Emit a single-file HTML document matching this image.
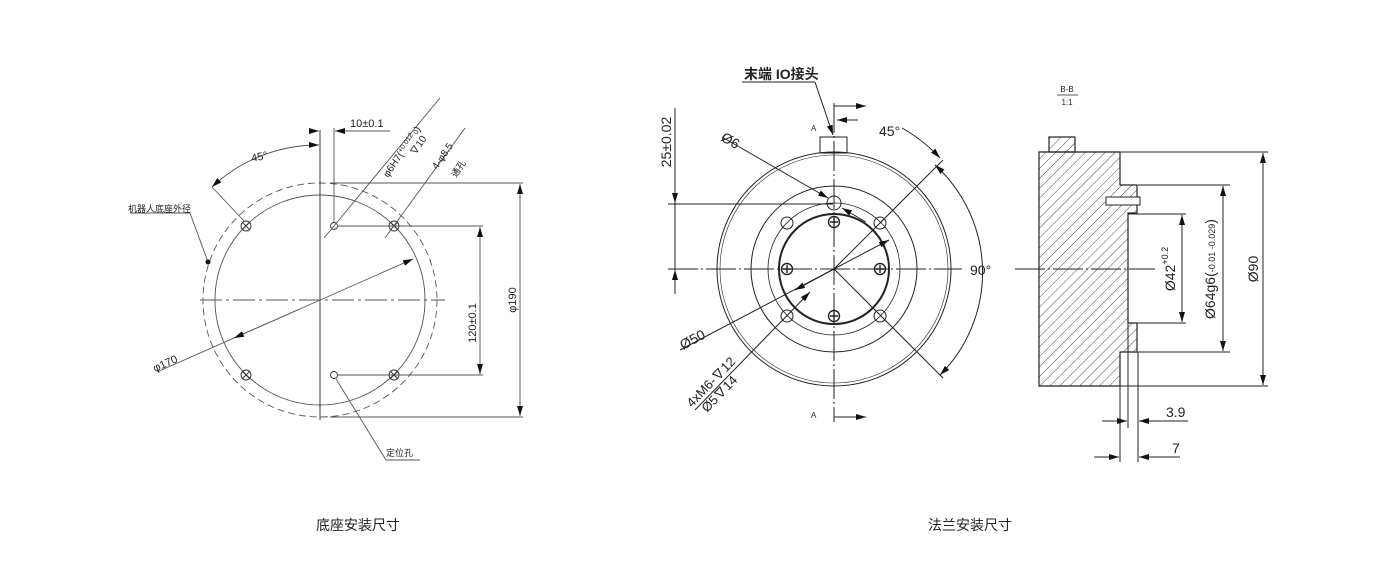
<!DOCTYPE html>
<html><head><meta charset="utf-8"><style>
body{margin:0;background:#fff}
svg{display:block}
text{font-family:"Liberation Sans","Noto Sans CJK SC",sans-serif;fill:#222}
</style></head><body>
<svg width="1400" height="588" viewBox="0 0 1400 588" xmlns="http://www.w3.org/2000/svg">
<defs>
<pattern id="h" width="7" height="7" patternUnits="userSpaceOnUse" patternTransform="rotate(45)">
<line x1="0" y1="0" x2="0" y2="7" stroke="#333" stroke-width="0.9"/></pattern>
<marker id="a" viewBox="0 0 10 6" refX="10" refY="3" markerWidth="10" markerHeight="6" orient="auto-start-reverse" markerUnits="userSpaceOnUse"><path d="M0,0 L10,3 L0,6z" fill="#111"/></marker>
</defs>

<!-- LEFT DRAWING -->
<g stroke="#555" fill="none" stroke-width="0.9">
<circle cx="320" cy="300" r="117" stroke-dasharray="7,4"/>
<circle cx="320" cy="300" r="105"/>
<line x1="320" y1="130" x2="320" y2="420" stroke="#222"/>
<line x1="200" y1="300" x2="445" y2="300" stroke-dasharray="22,4,3,4"/>
<g stroke="#333">
<circle cx="246" cy="226" r="5"/><circle cx="394" cy="226" r="5"/><circle cx="246" cy="375" r="5"/><circle cx="394" cy="375" r="5"/>
<path d="M242,222l8,8M250,222l-8,8M390,222l8,8M398,222l-8,8M242,371l8,8M250,371l-8,8M390,371l8,8M398,371l-8,8"/>
<circle cx="334" cy="226" r="3.5"/><circle cx="334" cy="375" r="3.5"/>
</g>
<line x1="330" y1="183" x2="523" y2="183"/><line x1="330" y1="417" x2="523" y2="417"/>
<line x1="520" y1="184" x2="520" y2="416" marker-start="url(#a)" marker-end="url(#a)"/>
<line x1="338" y1="226" x2="483" y2="226"/><line x1="338" y1="375" x2="483" y2="375"/>
<line x1="480" y1="227" x2="480" y2="374" marker-start="url(#a)" marker-end="url(#a)"/>
<line x1="334" y1="128" x2="334" y2="222"/>
<line x1="309" y1="131" x2="319" y2="131" marker-end="url(#a)"/>
<line x1="345" y1="131" x2="335" y2="131" marker-end="url(#a)"/>
<line x1="345" y1="131" x2="390" y2="131"/>
<path d="M319,145 A155,155 0 0 0 212,187" marker-start="url(#a)" marker-end="url(#a)"/>
<line x1="212" y1="187" x2="244" y2="221"/>
<line x1="157" y1="372" x2="413" y2="259" marker-end="url(#a)"/>
<line x1="300" y1="309" x2="234" y2="338" marker-end="url(#a)"/>
<line x1="324" y1="238" x2="440" y2="98"/>
<line x1="385" y1="238" x2="465" y2="128"/>
<line x1="130" y1="213" x2="190" y2="213"/><line x1="190" y1="213" x2="208" y2="262"/>
<line x1="336" y1="379" x2="386" y2="460"/><line x1="386" y1="460" x2="420" y2="460"/>
</g>
<circle cx="208" cy="262" r="2.5" fill="#111"/>
<g font-size="11" fill="#444">
<text x="350" y="127">10±0.1</text>
<text x="252" y="162" transform="rotate(-12 252 162)">45°</text>
<text x="155" y="372" transform="rotate(-24 155 372)">φ170</text>
<text x="480" y="323" transform="rotate(-90 480 323)" text-anchor="middle" dy="-4">120±0.1</text>
<text x="520" y="300" transform="rotate(-90 520 300)" text-anchor="middle" dy="-4">φ190</text>
<text x="388" y="178" transform="rotate(-56 388 178)" font-size="10">φ6H7(<tspan font-size="7" dy="-3">+0.012</tspan><tspan font-size="7" dy="3"> 0</tspan>)</text>
<text x="415" y="156" transform="rotate(-56 415 156)" font-size="10">∇10</text>
<text x="437" y="170" transform="rotate(-56 437 170)" font-size="10">4-φ8.5</text>
<text x="456" y="178" transform="rotate(-56 456 178)" font-size="9">通孔</text>
<text x="128" y="212" font-size="9">机器人底座外径</text>
<text x="386" y="456" font-size="9">定位孔</text>
</g>

<!-- MIDDLE DRAWING -->
<g stroke="#222" fill="none" stroke-width="1">
<circle cx="834" cy="269" r="117"/><circle cx="834" cy="269" r="114" stroke-width="0.6"/>
<circle cx="834" cy="269" r="83"/><circle cx="834" cy="269" r="66" stroke-width="0.8"/>
<circle cx="834" cy="269" r="55" stroke-width="2"/>
<rect x="820" y="137" width="27" height="16"/>
<circle cx="834" cy="203" r="7"/>
<circle cx="787" cy="223" r="6"/><circle cx="880" cy="223" r="6"/><circle cx="787" cy="316" r="6"/><circle cx="880" cy="316" r="6"/>
<g stroke-width="1.4">
<circle cx="834" cy="222" r="5.5"/><circle cx="787" cy="269" r="5.5"/><circle cx="880" cy="269" r="5.5"/><circle cx="834" cy="316" r="5.5"/>
<path d="M830,222h8M834,218v8M783,269h8M787,265v8M876,269h8M880,265v8M830,316h8M834,312v8"/>
</g>
<line x1="834" y1="103" x2="834" y2="422" stroke-dasharray="30,3,2,3"/>
<line x1="668" y1="269" x2="962" y2="269" stroke-dasharray="30,3,2,3"/>
<line x1="834" y1="106" x2="866" y2="106" marker-end="url(#a)"/>
<line x1="834" y1="417" x2="866" y2="417" marker-end="url(#a)"/>
<line x1="668" y1="204" x2="833" y2="204"/>
<line x1="675" y1="108" x2="675" y2="294"/>
<line x1="675" y1="180" x2="675" y2="203" marker-end="url(#a)"/>
<line x1="675" y1="292" x2="675" y2="270" marker-end="url(#a)"/>
<line x1="742" y1="82" x2="815" y2="82"/><line x1="815" y1="82" x2="833" y2="135" marker-end="url(#a)"/>
<line x1="858" y1="120" x2="837" y2="120" marker-end="url(#a)"/>
<line x1="834" y1="269" x2="943" y2="160"/><line x1="834" y1="269" x2="943" y2="378"/>
<path d="M902,128 A155,155 0 0 1 940,158" marker-end="url(#a)"/>
<path d="M935,165 A145,145 0 0 1 940,375" marker-start="url(#a)" marker-end="url(#a)"/>
<line x1="722" y1="137" x2="828" y2="198" marker-end="url(#a)"/>
<line x1="842" y1="208" x2="866" y2="222" marker-start="url(#a)"/>
<line x1="680" y1="350" x2="889" y2="240" marker-end="url(#a)"/>
<line x1="834" y1="269" x2="795" y2="290" marker-end="url(#a)"/>
<line x1="695" y1="410" x2="810" y2="292" marker-end="url(#a)"/>
</g>
<g font-size="14" fill="#111">
<text x="744" y="79" font-weight="bold">末端 IO接头</text>
<text x="879" y="136">45°</text>
<text x="970" y="275">90°</text>
<text x="668" y="142" transform="rotate(-90 668 142)" text-anchor="middle" dy="3">25±0.02</text>
<text x="720" y="140" transform="rotate(30 720 140)">Ø6</text>
<text x="683" y="350" transform="rotate(-28 683 350)">Ø50</text>
<text x="692" y="408" transform="rotate(-46 692 408)" font-size="13">4xM6-∇12</text>
<text x="707" y="413" transform="rotate(-46 707 413)" font-size="13">Ø5∇14</text>
<text x="811" y="131" font-size="8">A</text><text x="811" y="418" font-size="8">A</text>
</g>

<!-- RIGHT SECTION -->
<path d="M1039,152 H1120 V185 H1137 V213 H1128 V323 H1137 V352 H1120 V386 H1039 Z" fill="url(#h)" stroke="#222" stroke-width="1.2"/>
<rect x="1049" y="137" width="26" height="15" fill="url(#h)" stroke="#222" stroke-width="1.2"/>
<g stroke="#222" fill="none" stroke-width="1">
<rect x="1106" y="197" width="34" height="8" fill="#fff"/>
<line x1="1120" y1="152" x2="1268" y2="152"/><line x1="1120" y1="386" x2="1268" y2="386"/>
<line x1="1263" y1="153" x2="1263" y2="385" marker-start="url(#a)" marker-end="url(#a)"/>
<line x1="1138" y1="185" x2="1230" y2="185"/><line x1="1138" y1="352" x2="1230" y2="352"/>
<line x1="1223" y1="186" x2="1223" y2="351" marker-start="url(#a)" marker-end="url(#a)"/>
<line x1="1128" y1="214" x2="1186" y2="214"/><line x1="1128" y1="323" x2="1186" y2="323"/>
<line x1="1182" y1="215" x2="1182" y2="322" marker-start="url(#a)" marker-end="url(#a)"/>
<line x1="1015" y1="269" x2="1155" y2="269" stroke-dasharray="30,3,2,3"/>
<line x1="1128" y1="323" x2="1128" y2="428"/><line x1="1138" y1="352" x2="1138" y2="462"/><line x1="1120" y1="386" x2="1120" y2="462"/>
<line x1="1102" y1="421" x2="1127" y2="421" marker-end="url(#a)"/>
<line x1="1160" y1="421" x2="1139" y2="421" marker-end="url(#a)"/><line x1="1160" y1="421" x2="1188" y2="421"/>
<line x1="1094" y1="457" x2="1119" y2="457" marker-end="url(#a)"/>
<line x1="1160" y1="457" x2="1139" y2="457" marker-end="url(#a)"/><line x1="1160" y1="457" x2="1180" y2="457"/>
<line x1="1057" y1="95" x2="1078" y2="95" stroke-width="0.8"/>
</g>
<g font-size="14" fill="#111">
<text x="1067" y="92" font-size="8" text-anchor="middle">B-B</text>
<text x="1067" y="105" font-size="8" text-anchor="middle">1:1</text>
<text x="1166" y="417">3.9</text>
<text x="1172" y="453">7</text>
<text x="1175" y="269" transform="rotate(-90 1175 269)" text-anchor="middle">Ø42<tspan font-size="9" dy="-7">+0.2</tspan></text>
<text x="1215" y="269" transform="rotate(-90 1215 269)" text-anchor="middle">Ø64g6(<tspan font-size="9">-0.01 -0.029</tspan>)</text>
<text x="1258" y="269" transform="rotate(-90 1258 269)" text-anchor="middle">Ø90</text>
</g>

<g font-size="14" fill="#222">
<text x="358" y="530" text-anchor="middle">底座安装尺寸</text>
<text x="970" y="530" text-anchor="middle">法兰安装尺寸</text>
</g>
</svg>
</body></html>
